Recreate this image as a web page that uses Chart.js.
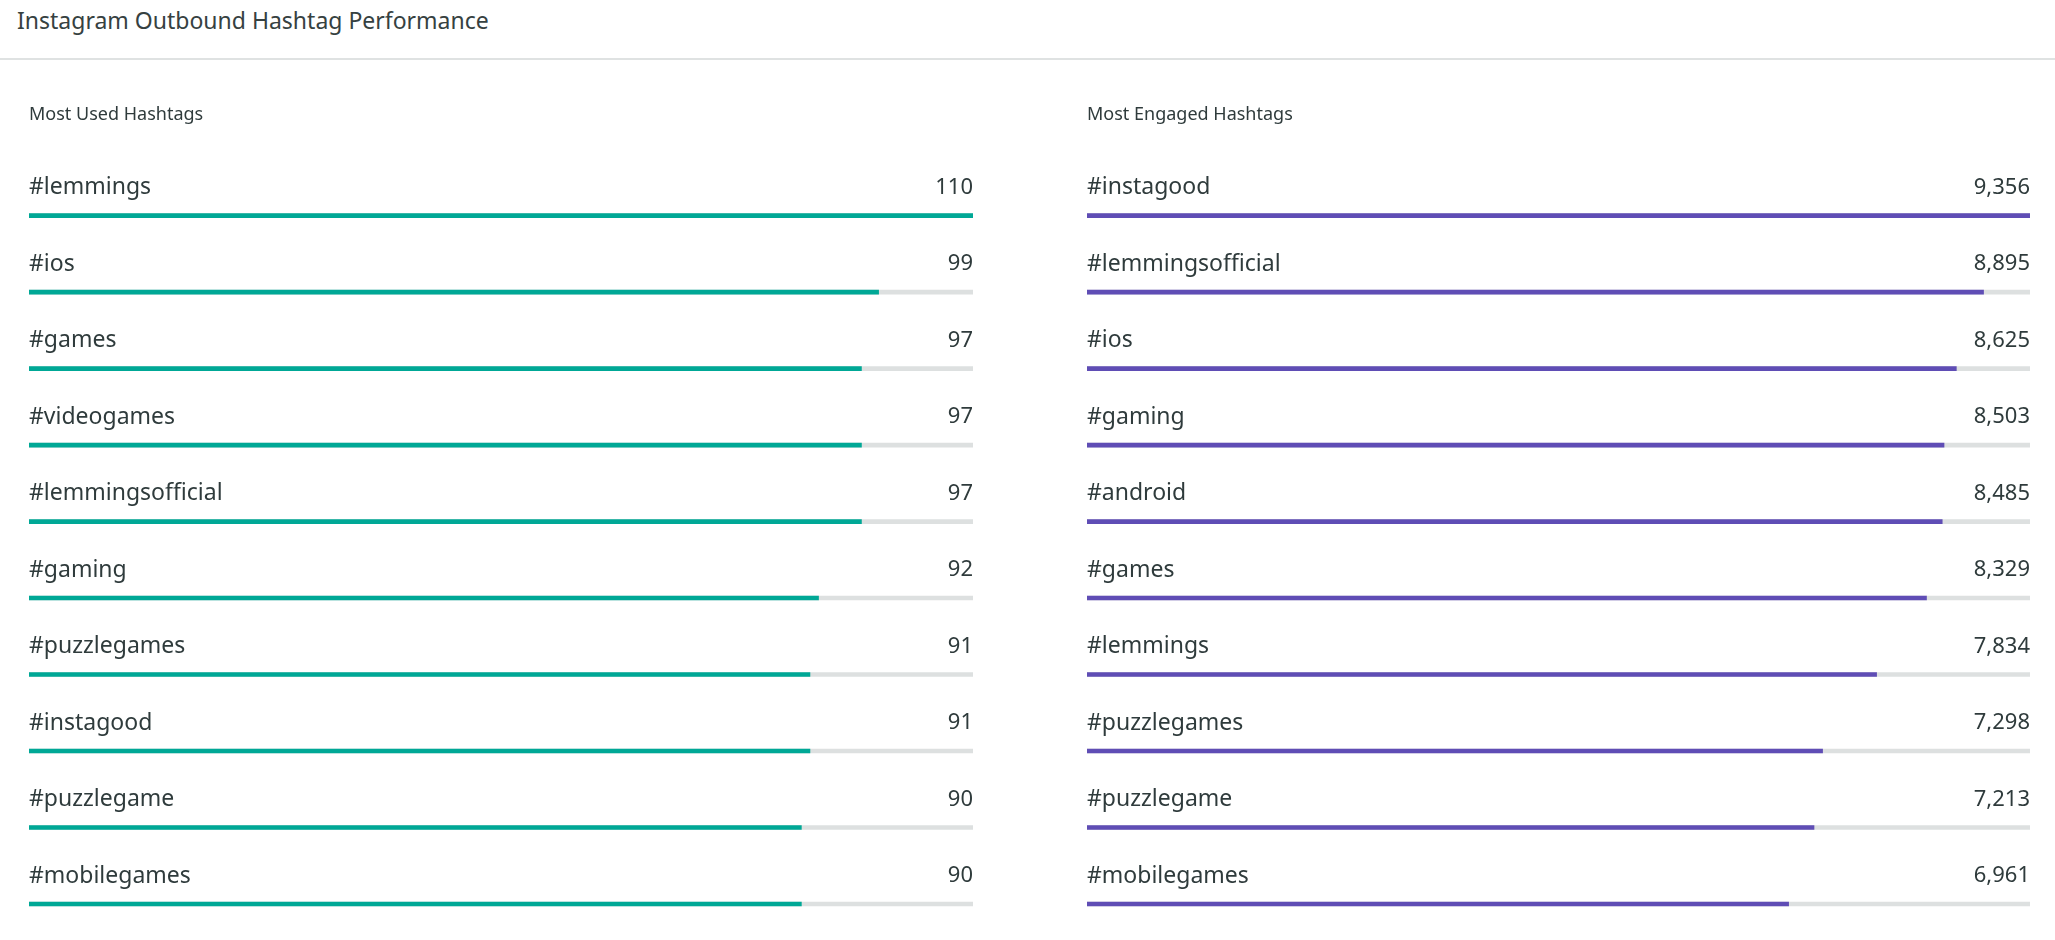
<!DOCTYPE html>
<html><head><meta charset="utf-8">
<script src="https://cdn.jsdelivr.net/npm/chart.js@4.4.1/dist/chart.umd.min.js"></script>
<style>
html,body{margin:0;padding:0;background:#fff;width:2055px;height:940px;overflow:hidden;font-family:'Noto Sans',sans-serif;color:#364141}
#title{position:absolute;left:17px;top:0;height:40px;line-height:40px;font-size:23px;white-space:nowrap}
#sep{position:absolute;left:0;top:58px;width:2055px;height:2px;background:#dfe2e2}
.box{position:absolute;top:62px;height:878px}
</style></head><body>
<div id="title">Instagram Outbound Hashtag Performance</div>
<div id="sep"></div>
<div class="box" style="left:29px;width:944px"><canvas id="used"></canvas></div>
<div class="box" style="left:1087px;width:943px"><canvas id="engaged"></canvas></div>
<script>
const usedTags = ['#lemmings','#ios','#games','#videogames','#lemmingsofficial','#gaming','#puzzlegames','#instagood','#puzzlegame','#mobilegames'];
const usedCounts = [110, 99, 97, 97, 97, 92, 91, 91, 90, 90];
const engagedTags = ['#instagood','#lemmingsofficial','#ios','#gaming','#android','#games','#lemmings','#puzzlegames','#puzzlegame','#mobilegames'];
const engagedCounts = [9356, 8895, 8625, 8503, 8485, 8329, 7834, 7298, 7213, 6961];

const FONT = "'Noto Sans', sans-serif";
const TEXT = '#2f3b3c';
const TRACK = '#dde0e0';

const rowLabels = {
  id: 'rowLabels',
  afterDatasetsDraw(chart) {
    const {ctx, chartArea, scales} = chart;
    const labels = chart.data.labels;
    const vals = chart.data.datasets[0].data;
    ctx.save();
    ctx.fillStyle = TEXT;
    ctx.textBaseline = 'middle';
    labels.forEach((lab, i) => {
      const y = scales.y.getPixelForValue(i) - 28;
      ctx.textAlign = 'left';
      ctx.font = "23px " + FONT;
      ctx.fillText(lab, chartArea.left, y);
      ctx.textAlign = 'right';
      ctx.font = "22px " + FONT;
      ctx.fillText(vals[i].toLocaleString('en-US'), chartArea.right, y);
    });
    ctx.restore();
  }
};

function makeChart(id, title, tags, counts, color) {
  const maxV = Math.max(...counts);
  return new Chart(document.getElementById(id), {
    type: 'bar',
    data: {
      labels: tags,
      datasets: [
        {data: counts, backgroundColor: color, barThickness: 4, grouped: false, order: 1, clip: false},
        {data: counts.map(() => maxV), backgroundColor: TRACK, barThickness: 4, grouped: false, order: 2, clip: false}
      ]
    },
    options: {
      indexAxis: 'y',
      responsive: true,
      maintainAspectRatio: false,
      animation: false,
      events: [],
      layout: {padding: {top: 0, bottom: 36, left: 0, right: 0}},
      scales: {
        x: {display: false, min: 0, max: maxV},
        y: {display: false, offset: false}
      },
      plugins: {
        legend: {display: false},
        tooltip: {enabled: false},
        title: {display: true, text: title, align: 'start', color: TEXT,
                font: {family: FONT, size: 18, weight: 'normal'},
                padding: {top: 42.5, bottom: 89.5}}
      }
    },
    plugins: [rowLabels]
  });
}
makeChart('used', 'Most Used Hashtags', usedTags, usedCounts, '#00a896');
makeChart('engaged', 'Most Engaged Hashtags', engagedTags, engagedCounts, '#5f4db5');
</script>
</body></html>
